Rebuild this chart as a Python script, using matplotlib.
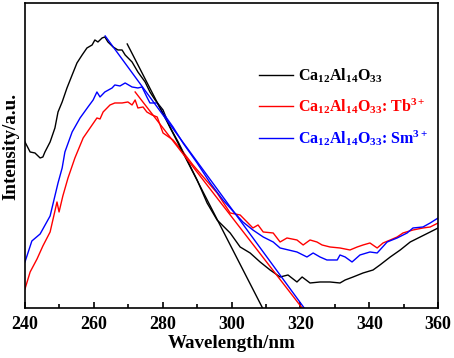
import matplotlib
matplotlib.use("Agg")
import matplotlib.pyplot as plt
from matplotlib.ticker import MultipleLocator

plt.rcParams['font.family'] = ['Liberation Serif', 'DejaVu Serif']
plt.rcParams['font.weight'] = 'bold'
plt.rcParams['mathtext.fontset'] = 'custom'
plt.rcParams['mathtext.rm'] = 'Liberation Serif:bold'
plt.rcParams['mathtext.bf'] = 'Liberation Serif:bold'
plt.rcParams['mathtext.it'] = 'Liberation Serif:bold'

# Ca12Al14O33 (black)
wl_black = [240, 241.5, 242.9, 244.4, 245.2, 245.8, 247.3, 248.7, 249.6, 250.8, 252.2, 253.7, 255.1,
            256.6, 258, 259.5, 260.3, 261.2, 262.4, 263.2, 264.1, 265.6, 267, 268.2, 269.1, 271.1,
            272.8, 274.9, 276.3, 277.8, 280.1, 282.1, 284.5, 287.1, 290, 292.9, 295.8, 299.6, 302.5,
            305.4, 308.3, 311.2, 314.1, 316.4, 319, 320.5, 322.8, 325.7, 328.6, 331.5, 333, 335.3,
            338.2, 341.1, 343.1, 346.1, 349, 351.9, 354.8, 357.7, 360]
int_black = [166, 156, 155, 150, 151, 156, 166, 180, 196, 206, 220, 233, 245,
             253, 260, 263, 268, 266, 270, 271, 266, 261, 258, 258, 253, 246,
             236, 226, 216, 208, 198, 181, 166, 148, 128, 105, 88, 75, 61,
             55, 46, 38, 31, 33, 26, 31, 25, 26, 26, 25, 28, 31,
             35, 38, 43, 51, 58, 66, 71, 76, 80]

# Ca12Al14O33:Tb3+ (red)
wl_red = [240, 241.5, 243.5, 245.2, 247.3, 249.3, 249.9, 251, 252.5, 254.5, 256.9, 258.9, 260.9,
          261.8, 262.7, 264.7, 266.1, 268.2, 269.9, 271.1, 272, 272.8, 274.3, 275.4, 276.9, 278.4,
          280.1, 283, 285.9, 288.8, 290.8, 293.8, 295.8, 299.6, 302.5, 304.5, 306.2, 307.7, 309.2,
          312.1, 314.1, 316.1, 319, 320.8, 322.8, 324.8, 326.3, 328.6, 331.5, 334.4, 336.5, 338.2,
          340.2, 342.3, 344, 346.1, 348.1, 349.8, 352.7, 355.6, 357.7, 360]
int_red = [19, 36, 49, 62, 76, 106, 96, 112, 130, 150, 170, 180, 190,
           189, 196, 203, 205, 205, 206, 203, 208, 200, 201, 196, 193, 191,
           175, 168, 156, 143, 135, 123, 115, 95, 93, 86, 80, 83, 76,
           75, 66, 70, 68, 63, 68, 66, 63, 61, 60, 58, 61, 63,
           65, 60, 65, 68, 71, 75, 78, 80, 81, 85]

# Ca12Al14O33:Sm3+ (blue)
wl_blue = [240, 242, 244.4, 247.3, 249.6, 250.8, 251.6, 253.7, 256, 258.3, 259.8, 260.9, 261.8,
           263.2, 265.3, 266.1, 267.6, 269.1, 271.1, 272.8, 274, 275.4, 276.3, 278.4, 280.1, 283,
           285.9, 290, 293.8, 297.5, 299.6, 303.3, 306.2, 309.2, 312.1, 314.1, 319, 321.9, 323.7,
           325.7, 327.7, 330.7, 331.5, 333, 335, 337.3, 340.2, 342.3, 345.2, 348.1, 351, 352.7,
           355.6, 357.7, 360]
int_blue = [46, 67, 74, 92, 125, 140, 156, 176, 190, 201, 208, 216, 211,
            216, 220, 223, 222, 225, 221, 220, 221, 211, 205, 205, 195, 181,
            165, 145, 125, 108, 100, 86, 78, 71, 66, 60, 56, 51, 55,
            51, 48, 48, 53, 51, 46, 53, 56, 55, 66, 70, 75, 80,
            81, 85, 90]

# tangent lines (start, end)
tan_black_x = [269.7, 309.0]
tan_black_y = [264, 0]
tan_red_x = [272.0, 320.5]
tan_red_y = [216, 0]
tan_blue_x = [263.3, 321.1]
tan_blue_y = [272, 0]

labels = [r'$\mathregular{Ca_{12}Al_{14}O_{33}}$',
          r'$\mathregular{Ca_{12}Al_{14}O_{33}}$: Tb$^{\mathregular{3+}}$',
          r'$\mathregular{Ca_{12}Al_{14}O_{33}}$: Sm$^{\mathregular{3+}}$']
colors = ['black', 'red', 'blue']

fig = plt.figure(figsize=(4.54, 3.58), dpi=100)
ax = fig.add_axes([0.055, 0.1397, 0.91, 0.852])

l1, = ax.plot(wl_black, int_black, color='black', lw=1.0)
l2, = ax.plot(wl_red, int_red, color='red', lw=1.0)
l3, = ax.plot(wl_blue, int_blue, color='blue', lw=1.0)
ax.plot(tan_black_x, tan_black_y, color='black', lw=1.0)
ax.plot(tan_red_x, tan_red_y, color='red', lw=1.0)
ax.plot(tan_blue_x, tan_blue_y, color='blue', lw=1.0)

ax.set_xlim(240, 360)
ax.set_ylim(0, 305)
ax.xaxis.set_major_locator(MultipleLocator(20))
ax.xaxis.set_minor_locator(MultipleLocator(10))
ax.tick_params(axis='x', which='both', direction='in', labelsize=13, width=1.2, pad=6)
ax.tick_params(axis='x', which='major', length=4)
ax.tick_params(axis='x', which='minor', length=3)
ax.set_yticks([])
for s in ax.spines.values():
    s.set_linewidth(1.2)
for t in ax.get_xticklabels():
    t.set_fontweight('bold')

fig.text(231.5 / 454, 1 - 343 / 358, 'Wavelength/nm', fontsize=13.7, fontweight='bold',
         ha='center', va='center')
fig.text(11 / 454, 1 - 146 / 358, 'Intensity/a.u.', fontsize=13.7, fontweight='bold',
         ha='center', va='center', rotation=90)

leg = ax.legend([l1, l2, l3], labels, loc='upper left', bbox_to_anchor=(0.532, 0.84),
                frameon=False, fontsize=11.5, handlelength=2.1, handletextpad=0.35,
                labelspacing=0.75)
for txt, c in zip(leg.get_texts(), colors):
    txt.set_color(c)

fig.savefig('out.png', dpi=100)
